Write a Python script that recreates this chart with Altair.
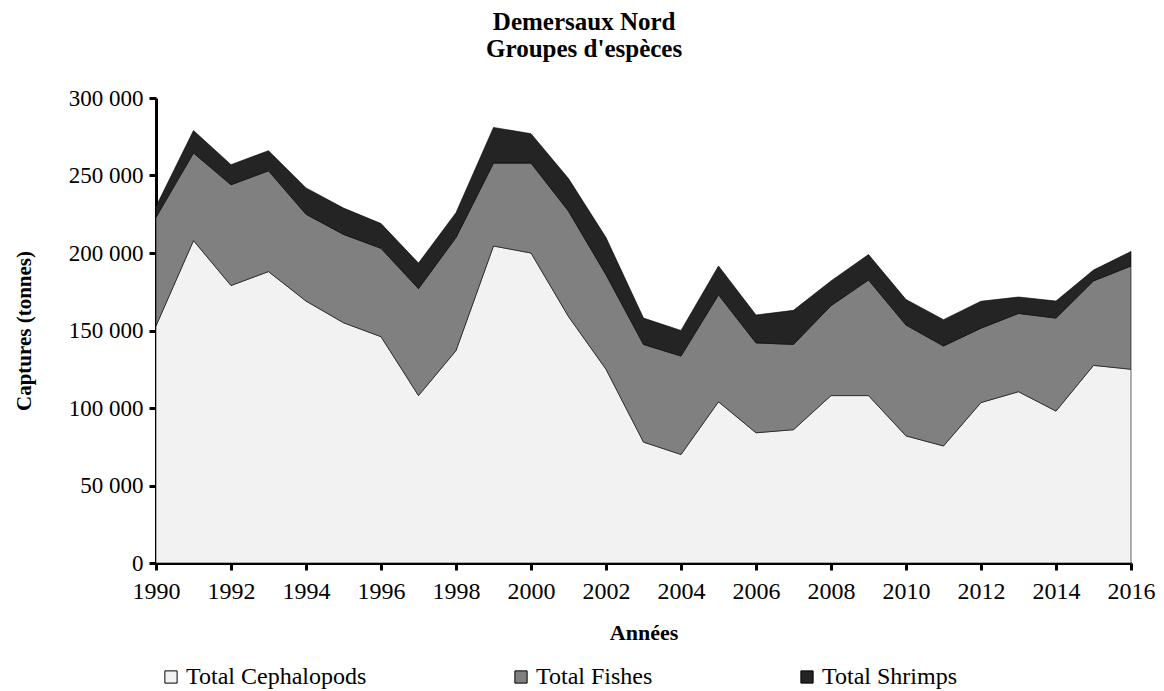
import altair as alt
import pandas as pd

years = list(range(1990, 2017))
cephalopods = [153000, 208000, 179000, 188000, 169000, 155000, 146000, 108000, 137000, 204500,
               200000, 159000, 125000, 78000, 70000, 104000, 84000, 86000, 108000, 108000,
               82000, 75500, 103500, 110500, 98000, 127500, 125000]
fishes = [70000, 56500, 65000, 65000, 56000, 57000, 57000, 69000, 73000, 53500,
          58000, 68000, 61000, 63000, 63500, 69000, 58000, 55000, 58000, 74600,
          71500, 64500, 48000, 50500, 60000, 54500, 66600]
shrimps = [7000, 14500, 13000, 13000, 17000, 17000, 16000, 16500, 16000, 23000,
           19000, 21000, 24000, 17000, 16500, 18600, 18000, 22000, 16000, 16400,
           16500, 17000, 17400, 10600, 11000, 7000, 9400]
groups = ["Total Cephalopods", "Total Fishes", "Total Shrimps"]
colors = ["#f2f2f2", "#808080", "#242424"]
x_ticks = list(range(1990, 2017, 2))
y_ticks = list(range(0, 300001, 50000))

rows = []
for i, y in enumerate(years):
    for k, (g, vals) in enumerate(zip(groups, [cephalopods, fishes, shrimps])):
        rows.append({"Année": y, "Groupe": g, "Captures": vals[i], "ordre": k})
df = pd.DataFrame(rows)

font = "Liberation Serif"

chart = alt.Chart(df).mark_area(stroke="black", strokeWidth=0.6).encode(
    x=alt.X("Année:Q", scale=alt.Scale(domain=[1990, 2016], nice=False, zero=False),
            axis=alt.Axis(title="Années", values=x_ticks, format="d", grid=False,
                          labelFlush=False, labelFontSize=24, labelPadding=9,
                          titleFontSize=22, titlePadding=19)),
    y=alt.Y("Captures:Q", stack="zero", scale=alt.Scale(domain=[0, 300000], nice=False),
            axis=alt.Axis(title="Captures (tonnes)", values=y_ticks,
                          labelExpr="replace(format(datum.value, ',d'), ',', ' ')",
                          grid=False, labelFontSize=23, labelPadding=6,
                          titleFontSize=21, titlePadding=34)),
    color=alt.Color("Groupe:N", scale=alt.Scale(domain=groups, range=colors),
                    legend=alt.Legend(title=None, orient="none", direction="horizontal",
                                      legendX=3, legendY=567, columns=3,
                                      columnPadding=142, symbolType="square",
                                      symbolSize=150, symbolStrokeColor="black",
                                      symbolStrokeWidth=1, labelFont=font,
                                      labelFontSize=24, labelColor="black",
                                      labelLimit=400, symbolOffset=0, labelOffset=3)),
    order=alt.Order("ordre:Q", sort="ascending"),
).properties(
    width=975,
    height=465,
    padding={"left": 5, "right": 0, "top": 2, "bottom": 0},
    title=alt.TitleParams(text=["Demersaux Nord", "Groupes d'espèces"], font=font,
                          fontSize=25, fontWeight="bold", color="black",
                          anchor="middle", frame="bounds", lineHeight=27, offset=25),
).configure_view(stroke=None).configure_axis(
    domainColor="black", domainWidth=3, tickColor="black", tickWidth=3, tickSize=7,
    labelFont=font, labelColor="black", titleFont=font,
    titleFontWeight="bold", titleColor="black",
)

chart.save("out.html", embed_options={"renderer": "svg", "actions": False})
